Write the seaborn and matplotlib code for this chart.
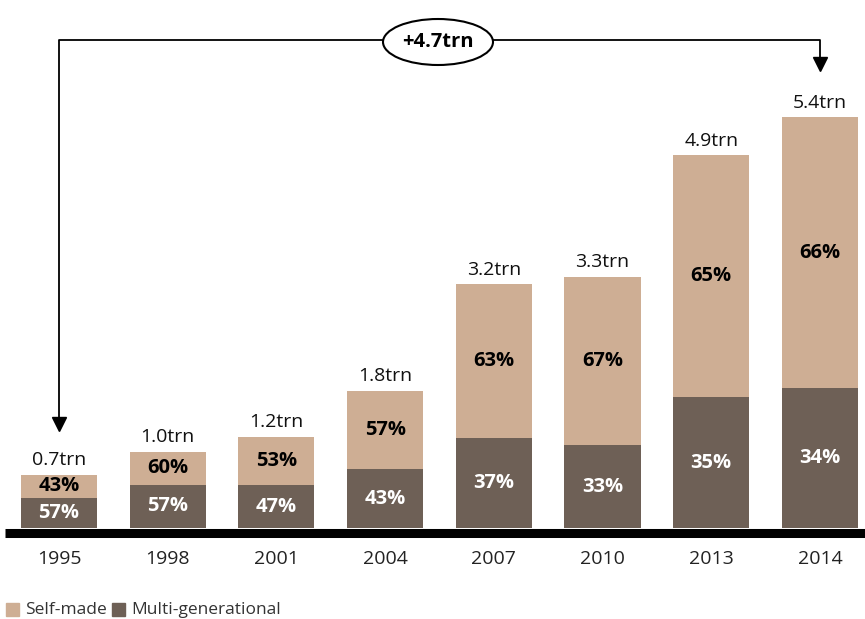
import matplotlib
matplotlib.use('Agg')
from matplotlib import pyplot as plt
from matplotlib.patches import Ellipse, Rectangle
import numpy as np
import seaborn as sns

years = ['1995', '1998', '2001', '2004', '2007', '2010', '2013', '2014']
totals = [0.7, 1.0, 1.2, 1.8, 3.2, 3.3, 4.9, 5.4]
total_labels = ['0.7trn', '1.0trn', '1.2trn', '1.8trn', '3.2trn', '3.3trn', '4.9trn', '5.4trn']
self_made_pct = [43, 60, 53, 57, 63, 67, 65, 66]
multi_gen_pct = [57, 57, 47, 43, 37, 33, 35, 34]
change_label = '+4.7trn'

TAN = '#CEAE94'
DARK = '#6E6056'

sns.set_theme(style='white')
plt.rcParams['font.family'] = ['Open Sans', 'DejaVu Sans']

fig = plt.figure(figsize=(8.65, 6.19), dpi=100)
ax = fig.add_axes([0, 91 / 619, 1, 528 / 619])

multi_vals = [t * m / 100 for t, m in zip(totals, multi_gen_pct)]

sns.barplot(x=years, y=totals, color=TAN, width=0.7, saturation=1, linewidth=0, ax=ax)
sns.barplot(x=years, y=multi_vals, color=DARK, width=0.7, saturation=1, linewidth=0, ax=ax)

px_per_unit = 76.1
ax.set_ylim(0, 528 / px_per_unit)
ax.set_xlim(-59 / 108.7, (865 - 59) / 108.7)
ax.axis('off')

# baseline, sitting just under the bars
ax.plot([-0.495, 7.42], [-4.5 / px_per_unit] * 2, color='black', lw=6.5,
        solid_capstyle='butt', clip_on=False)

for i, (t, lab, s, m, mv) in enumerate(zip(totals, total_labels, self_made_pct, multi_gen_pct, multi_vals)):
    ax.annotate(lab, (i, t), xytext=(0, 4), textcoords='offset points',
                ha='center', va='bottom', fontsize=14, color='#111111')
    ax.text(i, mv / 2, f'{m}%', ha='center', va='center', fontsize=14.5,
            fontweight='bold', color='white')
    ax.text(i, mv + (t - mv) / 2, f'{s}%', ha='center', va='center', fontsize=14.5,
            fontweight='bold', color='black')
    ax.text(i, -31 / px_per_unit, years[i], ha='center', va='center', fontsize=14, color='#222222')

# change bracket
y_top = (528 - 40) / px_per_unit
y_left = (528 - 424) / px_per_unit
y_right = (528 - 64) / px_per_unit
ax.plot([0, 0, 7, 7], [y_left, y_top, y_top, y_right], color='black', lw=1.3, clip_on=False)
ax.plot([0], [y_left], marker='v', color='black', markersize=10, clip_on=False)
ax.plot([7], [y_right], marker='v', color='black', markersize=10, clip_on=False)

ex = (438 - 59) / 108.7
ey = (528 - 42) / px_per_unit
ell = Ellipse((ex, ey), width=110 / 108.7, height=46 / px_per_unit,
              facecolor='white', edgecolor='black', lw=1.5, zorder=5, clip_on=False)
ax.add_patch(ell)
ax.text(ex, ey, change_label, ha='center', va='center',
        fontsize=14.5, fontweight='bold', color='black', zorder=6)

# legend
fig.patches.append(Rectangle((6 / 865, 1 - 616 / 619), 13 / 865, 13 / 619,
                             transform=fig.transFigure, color=TAN))
fig.text(25 / 865, 1 - 610 / 619, 'Self-made', fontsize=12.5, color='#333333', va='center')
fig.patches.append(Rectangle((112 / 865, 1 - 616 / 619), 13 / 865, 13 / 619,
                             transform=fig.transFigure, color=DARK))
fig.text(131 / 865, 1 - 610 / 619, 'Multi-generational', fontsize=12.5, color='#333333', va='center')

fig.savefig('out.png', dpi=100)
